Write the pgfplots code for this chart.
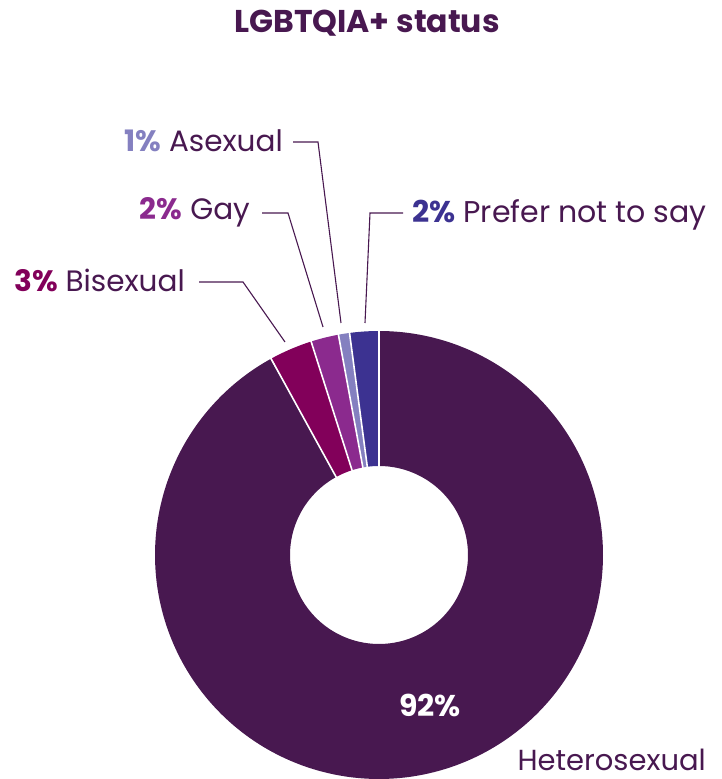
\documentclass[border=0pt]{standalone}
\usepackage{pgfplots}
\pgfplotsset{compat=1.18}
\usepackage{fontspec}
\setmainfont{Poppins}
\definecolor{het}{RGB}{72,24,80}
\definecolor{bis}{RGB}{130,0,90}
\definecolor{gay}{RGB}{139,42,142}
\definecolor{ace}{RGB}{132,128,192}
\definecolor{pns}{RGB}{60,50,145}
\definecolor{txt}{RGB}{72,24,80}
\begin{document}
\begin{tikzpicture}
% values (percent)
\def\vHet{92.0}
\def\vBis{3.1}
\def\vGay{2.0}
\def\vAce{0.8}
\def\vPns{2.1}
\pgfmathsetmacro{\aA}{90}
\pgfmathsetmacro{\aB}{\aA+3.6*\vPns}
\pgfmathsetmacro{\aC}{\aB+3.6*\vAce}
\pgfmathsetmacro{\aD}{\aC+3.6*\vGay}
\pgfmathsetmacro{\aE}{\aD+3.6*\vBis}
\pgfmathsetmacro{\aF}{\aE+3.6*\vHet}
\begin{axis}[x=1pt,y=1pt,xmin=0,xmax=721,ymin=0,ymax=779,hide axis,clip=false]
\addplot[draw=none] coordinates {(0,0) (721,779)};
\addplot[pns, line width=135pt, domain=\aA:\aB, samples=8, smooth, variable=\t] ({379+156.5*cos(\t)},{224+156.5*sin(\t)});
\addplot[ace, line width=135pt, domain=\aB:\aC, samples=5, smooth, variable=\t] ({379+156.5*cos(\t)},{224+156.5*sin(\t)});
\addplot[gay, line width=135pt, domain=\aC:\aD, samples=8, smooth, variable=\t] ({379+156.5*cos(\t)},{224+156.5*sin(\t)});
\addplot[bis, line width=135pt, domain=\aD:\aE, samples=10, smooth, variable=\t] ({379+156.5*cos(\t)},{224+156.5*sin(\t)});
\addplot[het, line width=135pt, domain=\aE:\aF, samples=150, smooth, variable=\t] ({379+156.5*cos(\t)},{224+156.5*sin(\t)});
% separators
\foreach \a in {\aA,\aB,\aC,\aD,\aE}{
\addplot[white, line width=1.6pt, domain=88:225, samples=2, variable=\r] ({379+\r*cos(\a)},{224+\r*sin(\a)});
}
% leader lines
\addplot[txt, line width=1.1pt] coordinates {(293,637) (318,637) (341,456)};
\addplot[txt, line width=1.1pt] coordinates {(262,566) (288,566) (323,452)};
\addplot[txt, line width=1.1pt] coordinates {(199,497) (243,497) (285,437)};
\addplot[txt, line width=1.1pt] coordinates {(403,566) (370,566) (365,456)};
% texts
\node[anchor=base, inner sep=0, font=\fontsize{31.5}{36}\selectfont\bfseries, text=txt] at (axis cs:367,746) {LGBTQIA+ status};
\node[anchor=base east, inner sep=0, font=\fontsize{29.5}{36}\selectfont] at (axis cs:283,627) {\textcolor{ace}{\bfseries 1\%} \textcolor{txt}{Asexual}};
\node[anchor=base east, inner sep=0, font=\fontsize{29.5}{36}\selectfont] at (axis cs:250,559) {\textcolor{gay}{\bfseries 2\%} \textcolor{txt}{Gay}};
\node[anchor=base east, inner sep=0, font=\fontsize{29.5}{36}\selectfont] at (axis cs:185,487) {\textcolor{bis}{\bfseries 3\%} \textcolor{txt}{Bisexual}};
\node[anchor=base west, inner sep=0, font=\fontsize{30}{36}\selectfont] at (axis cs:412,556) {\textcolor{pns}{\bfseries 2\%} \textcolor{txt}{Prefer not to say}};
\node[anchor=base, inner sep=0, font=\fontsize{30}{36}\selectfont\bfseries, text=white] at (axis cs:430,62) {92\%};
\node[anchor=base east, inner sep=0, font=\fontsize{29}{36}\selectfont, text=txt] at (axis cs:706,9) {Heterosexual};
\end{axis}
\end{tikzpicture}
\end{document}
